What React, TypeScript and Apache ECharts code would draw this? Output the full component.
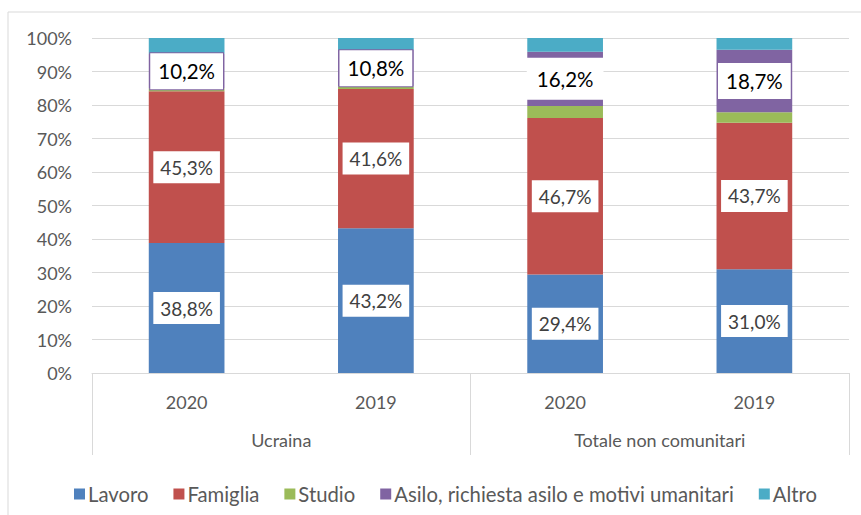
import React, { useEffect, useRef } from "react";
import * as echarts from "echarts";

const years = ["2020", "2019", "2020", "2019"];
const groups = ["Ucraina", "Totale non comunitari"];
const seriesNames = ["Lavoro", "Famiglia", "Studio", "Asilo, richiesta asilo e motivi umanitari", "Altro"];
const lavoro = [38.8, 43.2, 29.4, 31.0];
const famiglia = [45.3, 41.6, 46.7, 43.7];
const studio = [0.9, 0.8, 3.6, 3.1];
const asilo = [10.2, 10.8, 16.2, 18.7];
const altro = [4.8, 3.6, 4.1, 3.5];
const yTicks = [0, 10, 20, 30, 40, 50, 60, 70, 80, 90, 100];

const colors = ["#4f81bd", "#c0504d", "#9bbb59", "#8064a2", "#4bacc6"];
const FONT = "Lato, 'Open Sans', sans-serif";

const fmt = (p: any) => Number(p.value).toFixed(1).replace(".", ",") + "%";

export default function App() {
  const ref = useRef<HTMLDivElement>(null);
  useEffect(() => {
    if (!ref.current) return;
    const chart = echarts.init(ref.current, undefined, { renderer: "svg" });
    const baseLabel = {
      show: true,
      position: "inside",
      formatter: fmt,
      backgroundColor: "#ffffff",
      color: "#404040",
      fontFamily: FONT,
      fontSize: 19,
      padding: [7, 7, 6, 7],
    };
    const values = [lavoro, famiglia, studio, asilo, altro];
    const series = values.map((vals, si) => {
      let label: any = { show: false };
      let data: any[] = vals;
      if (si === 0 || si === 1) label = { ...baseLabel };
      if (si === 3) {
        label = {
          ...baseLabel,
          color: "#000000",
          fontSize: 20.5,
          padding: [8, 8, 7, 8],
          borderColor: colors[3],
          borderWidth: 1,
        };
        data = vals.map((v, i) =>
          i === 2
            ? { value: v, label: { borderColor: "#ffffff", padding: [10, 9, 9, 9] } }
            : v
        );
      }
      return {
        name: seriesNames[si],
        type: "bar",
        stack: "total",
        xAxisIndex: 0,
        barWidth: "40%",
        itemStyle: { color: colors[si] },
        label,
        data,
      };
    });
    chart.setOption({
      animation: false,
      backgroundColor: "#ffffff",
      color: colors,
      textStyle: { fontFamily: FONT },
      grid: { left: 92, right: 12, top: 38, bottom: 142, containLabel: false },
      graphic: [
        {
          type: "rect",
          shape: { x: 8, y: 12, width: 870, height: 520 },
          style: { fill: "none", stroke: "#d9d9d9", lineWidth: 1 },
          silent: true,
          z: -10,
        },
      ],
      legend: {
        left: 69,
        top: 479,
        icon: "rect",
        itemWidth: 11,
        itemHeight: 11,
        itemGap: 25,
        textStyle: { color: "#595959", fontSize: 20.3, fontFamily: FONT, padding: [0, 0, 0, -2] },
        data: seriesNames,
      },
      xAxis: [
        {
          type: "category",
          data: years,
          position: "bottom",
          axisLine: { show: true, lineStyle: { color: "#d9d9d9", width: 1 } },
          axisTick: { show: false },
          axisLabel: { color: "#595959", fontSize: 18, fontFamily: FONT, margin: 20 },
        },
        {
          type: "category",
          data: groups,
          position: "bottom",
          axisLine: { show: false },
          axisTick: { show: true, length: 82, lineStyle: { color: "#d9d9d9", width: 1 } },
          axisLabel: { color: "#595959", fontSize: 18, fontFamily: FONT, margin: 58 },
        },
      ],
      yAxis: {
        type: "value",
        min: yTicks[0],
        max: yTicks[yTicks.length - 1],
        interval: 10,
        axisLine: { show: false },
        axisTick: { show: false },
        axisLabel: { color: "#595959", fontSize: 18, fontFamily: FONT, margin: 20, formatter: "{value}%" },
        splitLine: { lineStyle: { color: "#d9d9d9", width: 1 } },
      },
      series,
    });
    return () => chart.dispose();
  }, []);
  return <div ref={ref} style={{ width: 861, height: 515, position: "absolute", left: 0, top: 0 }} />;
}
